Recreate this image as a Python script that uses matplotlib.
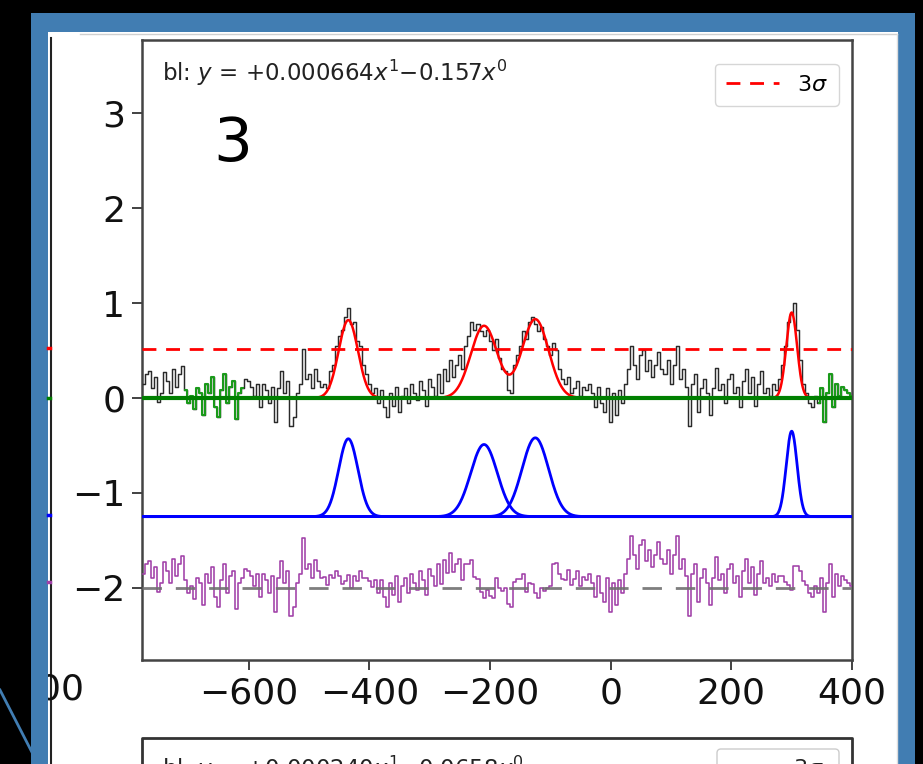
import numpy as np
import matplotlib
matplotlib.use("Agg")
import matplotlib.pyplot as plt
from matplotlib.patches import Rectangle, FancyBboxPatch

# ---------------- data ----------------
chan_start = -775.0
chan_width = 5.0
spectrum = [
    0.15, 0.25, 0.28, 0.10, 0.22, -0.04, 0.05, 0.27, 0.18, 0.05,
    0.30, 0.12, 0.25, 0.34, 0.08, -0.05, 0.02, -0.12, 0.10, 0.05,
    -0.18, 0.15, 0.05, 0.22, -0.10, -0.20, 0.08, 0.25, -0.05, 0.12,
    0.18, -0.22, 0.05, 0.10, 0.20, 0.18, 0.12, 0.02, 0.15, -0.10,
    0.15, 0.08, -0.05, 0.12, -0.25, 0.10, 0.28, 0.05, 0.18, -0.30,
    -0.20, 0.05, 0.15, 0.52, 0.20, 0.25, 0.10, 0.30, 0.18, 0.12,
    0.15, 0.10, 0.28, 0.35, 0.55, 0.65, 0.72, 0.85, 0.95, 0.78,
    0.80, 0.60, 0.55, 0.35, 0.25, 0.15, 0.05, 0.10, -0.05, 0.08,
    -0.10, -0.20, 0.05, -0.08, 0.12, -0.15, 0.02, 0.10, -0.05, 0.15,
    0.05, -0.02, 0.18, 0.08, -0.08, 0.20, 0.12, 0.02, 0.25, 0.05,
    0.30, 0.18, 0.40, 0.22, 0.35, 0.45, 0.30, 0.55, 0.65, 0.80,
    0.72, 0.78, 0.70, 0.65, 0.72, 0.60, 0.50, 0.62, 0.42, 0.30,
    0.28, 0.08, 0.05, 0.35, 0.45, 0.55, 0.70, 0.62, 0.80, 0.85,
    0.78, 0.70, 0.75, 0.62, 0.55, 0.45, 0.58, 0.50, 0.30, 0.20,
    0.15, 0.22, 0.05, 0.10, 0.18, 0.02, 0.12, 0.08, 0.15, 0.05,
    -0.10, 0.12, -0.05, -0.15, 0.10, -0.25, 0.05, -0.18, 0.08, -0.05,
    0.15, 0.30, 0.55, 0.35, 0.20, 0.45, 0.50, 0.28, 0.40, 0.22,
    0.35, 0.48, 0.30, 0.25, 0.40, 0.15, 0.35, 0.55, 0.20, 0.30,
    0.12, -0.30, 0.15, 0.25, -0.15, 0.10, 0.20, 0.05, -0.18, 0.10,
    0.32, 0.08, 0.15, -0.05, 0.20, 0.25, 0.05, 0.12, -0.10, 0.18,
    0.30, 0.05, 0.22, -0.08, 0.15, 0.28, 0.05, 0.10, 0.02, 0.15,
    0.08, 0.20, 0.35, 0.55, 0.80, 0.88, 1.00, 0.72, 0.40, 0.15,
    0.05, -0.05, -0.10, 0.02, -0.05, 0.10, -0.25, 0.05, 0.25, -0.10,
    0.15, 0.02, 0.12, 0.08, 0.05, 0.02,
]
baseline_windows = [(-705, -606), (345, 400)]

gauss_centers = [-435, -210, -125, 300]
gauss_amps = [0.82, 0.76, 0.83, 0.90]
gauss_sigmas = [16, 22, 22, 9]

sigma3_level = 0.52
component_offset = -1.25
residual_offset = -2.0

xlim = (-777, 400)
ylim = (-2.76, 3.77)
xticks = [-600, -400, -200, 0, 200, 400]
yticks = [-2, -1, 0, 1, 2, 3]

baseline_text = r"bl: $y$ = +0.000664$x^1$$-$0.157$x^0$"
next_baseline_text = r"bl: $y$ = +0.000240$x^1$$-$0.0658$x^0$"
panel_label = "3"

# ---------------- derived ----------------
spec = np.array(spectrum)
vel = chan_start + chan_width * np.arange(len(spec))


def gauss(x, c, a, s):
    return a * np.exp(-0.5 * ((x - c) / s) ** 2)


xf = np.linspace(xlim[0], xlim[1], 1500)
model_f = sum(gauss(xf, c, a, s) for c, a, s in zip(gauss_centers, gauss_amps, gauss_sigmas))
model_c = sum(gauss(vel, c, a, s) for c, a, s in zip(gauss_centers, gauss_amps, gauss_sigmas))
resid = spec - model_c + residual_offset

W, H = 923, 764
fig = plt.figure(figsize=(W / 100, H / 100), dpi=100, facecolor="black")

# background decoration axes in pixel coordinates
bg = fig.add_axes([0, 0, 1, 1], zorder=0)
bg.set_xlim(0, W)
bg.set_ylim(H, 0)
bg.axis("off")
blue = "#417db2"
bg.add_patch(Rectangle((31, 13), 884, 800, facecolor=blue, edgecolor="none", zorder=1))
bg.add_patch(Rectangle((48, 32), 850, 800, facecolor="white", edgecolor="none", zorder=2))
bg.plot([80, 897], [33.5, 33.5], color="#d0d0d0", lw=1, zorder=3)
bg.plot([50.5, 50.5], [38, 764], color="#222222", lw=1.5, zorder=3)
bg.plot([897, 897], [34, 764], color="#dddddd", lw=1, zorder=3)
# remnants of neighbouring panel on the left
bg.text(84, 690, "400", fontsize=26, ha="right", va="center", color="#111111", zorder=3)
bg.add_patch(Rectangle((31, 600), 17, 200, facecolor=blue, edgecolor="none", zorder=4))
bg.add_patch(Rectangle((0, 600), 31, 200, facecolor="black", edgecolor="none", zorder=4))
bg.plot([0, 38], [690, 764], color=blue, lw=2, zorder=5)
for yy, cc in [(348, "red"), (398, "green"), (515, "blue"), (582, "#a040a8")]:
    bg.plot([48, 50], [yy, yy], color=cc, lw=2.5, zorder=3)
# next panel at the bottom
bg.plot([142, 142, 852, 852], [800, 738, 738, 800], color="#333333", lw=2, zorder=3)
bg.text(162, 754, next_baseline_text, fontsize=16.5, va="top", ha="left", color="#222222", zorder=3)
bg.add_patch(FancyBboxPatch((717, 749), 122, 40, boxstyle="round,pad=0,rounding_size=4",
                            facecolor="white", edgecolor="#cccccc", lw=1, zorder=3))
bg.text(793, 759, r"3$\sigma$", fontsize=16, va="top", ha="left", color="#222222", zorder=3)
bg.plot([727, 775], [770, 770], color="red", lw=2, dashes=(4, 3), zorder=3)

# ---------------- main axes ----------------
left, right, top, bottom = 142, 852, 40, 660
ax = fig.add_axes([left / W, (H - bottom) / H, (right - left) / W, (bottom - top) / H], zorder=2)
ax.set_facecolor("white")

ax.step(vel, spec, where="mid", color="#2a2a2a", lw=1.05, zorder=3)
for lo, hi in baseline_windows:
    m = (vel >= lo) & (vel <= hi)
    ax.step(vel[m], spec[m], where="mid", color="#1a9a1a", lw=1.5, zorder=4)
ax.plot(xf, model_f, color="red", lw=1.8, zorder=4)
ax.axhline(0, color="green", lw=3, zorder=5)
ax.axhline(sigma3_level, color="red", lw=2, dashes=(5, 3.5), zorder=5, label=r"3$\sigma$")

for c, a, s in zip(gauss_centers, gauss_amps, gauss_sigmas):
    ax.plot(xf, gauss(xf, c, a, s) + component_offset, color="blue", lw=2, zorder=4)

ax.step(vel, resid, where="mid", color="#a040a8", lw=1.15, zorder=3)
ax.axhline(residual_offset, color="#707070", lw=2, dashes=(7, 5), zorder=4, alpha=0.9)

ax.set_xlim(*xlim)
ax.set_ylim(*ylim)
ax.set_xticks(xticks)
ax.set_yticks(yticks)
ax.set_xticklabels([f"\u2212{abs(t)}" if t < 0 else str(t) for t in xticks])
ax.set_yticklabels([f"\u2212{abs(t)}" if t < 0 else str(t) for t in yticks])
ax.tick_params(labelsize=26, length=7, width=1.3, color="#333333", labelcolor="#111111", pad=5)
for sp in ax.spines.values():
    sp.set_color("#444444")
    sp.set_linewidth(1.8)

ax.text(0.028, 0.972, baseline_text, transform=ax.transAxes, fontsize=16.5, va="top", ha="left",
        color="#222222")
ax.text(0.10, 0.805, panel_label, transform=ax.transAxes, fontsize=44, va="baseline", ha="left",
        color="black")
leg = ax.legend(loc="upper right", fontsize=16, handlelength=2.4, borderpad=0.5,
                bbox_to_anchor=(0.997, 0.98))
leg.get_frame().set_edgecolor("#cccccc")

fig.savefig("out.png", dpi=100, facecolor="black")
